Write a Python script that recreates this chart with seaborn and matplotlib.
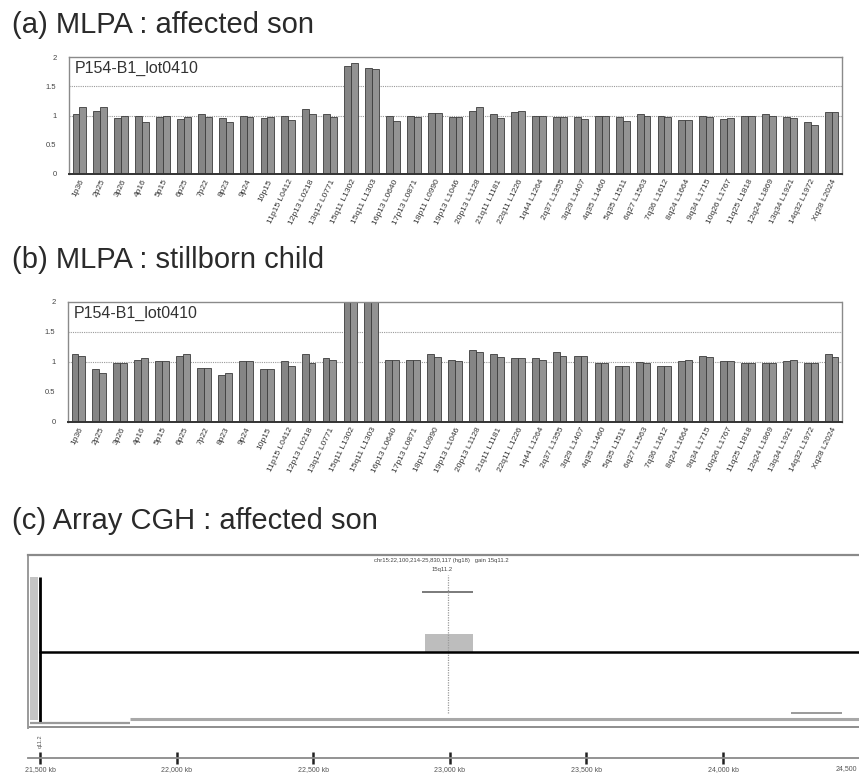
import numpy as np
import pandas as pd
import matplotlib
matplotlib.use("Agg")
import matplotlib.pyplot as plt
import seaborn as sns

# ---------------- data ----------------
probes = ["1p36", "2p25", "3p26", "4p16", "5p15", "6p25", "7p22", "8p23", "9p24", "10p15",
          "11p15 L0412", "12p13 L0218", "13q12 L0771", "15q11 L1302", "15q11 L1303",
          "16p13 L0640", "17p13 L0871", "18p11 L0990", "19p13 L1046", "20p13 L1128",
          "21q11 L1181", "22q11 L1226", "1q44 L1264", "2q37 L1355", "3q29 L1407",
          "4q35 L1460", "5q35 L1511", "6q27 L1563", "7q36 L1612", "8q24 L1664",
          "9q34 L1715", "10q26 L1767", "11q25 L1818", "12q24 L1869", "13q34 L1921",
          "14q32 L1972", "Xq28 L2024"]

son_run1 = [1.03, 1.08, 0.96, 1.00, 0.98, 0.94, 1.02, 0.96, 1.00, 0.96,
            1.00, 1.11, 1.03, 1.85, 1.82, 1.00, 1.00, 1.05, 0.98, 1.08,
            1.03, 1.06, 1.00, 0.98, 0.98, 1.00, 0.98, 1.02, 1.00, 0.93,
            1.00, 0.94, 1.00, 1.03, 0.97, 0.89, 1.06]
son_run2 = [1.15, 1.14, 1.00, 0.89, 1.00, 0.98, 0.97, 0.89, 0.97, 0.97,
            0.92, 1.02, 0.98, 1.90, 1.80, 0.90, 0.98, 1.04, 0.98, 1.14,
            0.96, 1.08, 1.00, 0.98, 0.94, 1.00, 0.90, 1.00, 0.98, 0.92,
            0.98, 0.96, 1.00, 1.00, 0.96, 0.83, 1.06]

still_run1 = [1.13, 0.88, 0.98, 1.03, 1.02, 1.10, 0.90, 0.79, 1.02, 0.88,
              1.02, 1.13, 1.06, 2.10, 2.10, 1.03, 1.03, 1.13, 1.04, 1.20,
              1.13, 1.06, 1.06, 1.16, 1.10, 0.98, 0.94, 1.00, 0.94, 1.02,
              1.10, 1.02, 0.98, 0.98, 1.02, 0.99, 1.13]
still_run2 = [1.10, 0.82, 0.98, 1.07, 1.02, 1.13, 0.90, 0.82, 1.02, 0.88,
              0.93, 0.99, 1.03, 2.10, 2.10, 1.03, 1.03, 1.09, 1.02, 1.16,
              1.09, 1.06, 1.04, 1.10, 1.10, 0.98, 0.94, 0.98, 0.94, 1.04,
              1.09, 1.02, 0.98, 0.98, 1.04, 0.98, 1.09]

y_ticks = [0, 0.5, 1, 1.5, 2]
y_tick_labels = ["0", "0.5", "1", "1.5", "2"]
panel_titles = ["(a) MLPA : affected son", "(b) MLPA : stillborn child",
                "(c) Array CGH : affected son"]
kit_label = "P154-B1_lot0410"

# array CGH (log2 ratio profile, positions in ruler units)
cgh_pos = [0.0, 6.1]
cgh_ratio = [0.0, 0.0]
gain_start, gain_end, gain_ratio = 2.82, 3.17, 0.28
gain_centre = 2.99
gain_threshold = 0.92
cgh_title = "chr15:22,100,214-25,830,117 (hg18)   gain 15q11.2"
cgh_subtitle = "15q11.2"
ruler_ticks = [0, 1, 2, 3, 4, 5]
ruler_labels = ["21,500 kb", "22,000 kb", "22,500 kb", "23,000 kb",
                "23,500 kb", "24,000 kb"]
ruler_end_label = "24,500"

# ---------------- figure ----------------
W, H = 859, 773
sns.set_theme(style="white")
plt.rcParams["font.family"] = ["Liberation Sans", "DejaVu Sans"]
fig = plt.figure(figsize=(W / 100, H / 100), dpi=100)
fig.patch.set_facecolor("white")


def px_axes(l, t, r, b):
    return fig.add_axes([l / W, 1 - b / H, (r - l) / W, (b - t) / H])


def mlpa_panel(ax, r1, r2):
    df = pd.DataFrame({"probe": probes * 2,
                       "run": ["1"] * len(probes) + ["2"] * len(probes),
                       "ratio": list(r1) + list(r2)})
    for g in [1.0, 1.5]:
        ax.axhline(g, color="#9a9a9a", lw=0.8, ls=(0, (1, 1)), zorder=0)
    sns.barplot(data=df, x="probe", y="ratio", hue="run",
                palette=["#858585", "#939393"], width=0.66, errorbar=None,
                edgecolor="#3c3c3c", linewidth=0.6, legend=False, ax=ax,
                zorder=2)
    ax.set_ylim(0, 2)
    ax.set_xlim(-0.5, len(probes) - 0.5)
    ax.set_yticks(y_ticks)
    ax.set_yticklabels(y_tick_labels)
    ax.set_xticks(range(len(probes)))
    ax.set_xticklabels(probes, rotation=64, ha="right", rotation_mode="anchor")
    ax.tick_params(axis="both", length=0)
    ax.tick_params(axis="y", pad=9, labelsize=5.5, labelcolor="#444444")
    ax.tick_params(axis="x", pad=3, labelsize=6.0, labelcolor="#333333")
    ax.set_xlabel("")
    ax.set_ylabel("")
    for s in ["top", "left", "right"]:
        ax.spines[s].set_color("#8a8a8a")
        ax.spines[s].set_linestyle((0, (1, 1)))
        ax.spines[s].set_linewidth(1.0)
    ax.spines["bottom"].set_color("#333333")
    ax.spines["bottom"].set_linewidth(1.4)
    ax.text(0.008, 0.965, kit_label, transform=ax.transAxes, va="top",
            ha="left", fontsize=11.5, color="#333333")


ax_a = px_axes(69, 57, 842, 174)
mlpa_panel(ax_a, son_run1, son_run2)
ax_b = px_axes(68, 302, 842, 422)
mlpa_panel(ax_b, still_run1, still_run2)

for title, base in zip(panel_titles, [33, 268, 529]):
    fig.text(12 / W, 1 - base / H, title, fontsize=21, color="#2a2a2a",
             va="baseline", ha="left")

# ---------------- array CGH panel ----------------
ax_c = px_axes(28, 555, 862, 728)
ax_c.set_xlim((28 - 40) / 136.6, (862 - 40) / 136.6)
ax_c.set_ylim(-1.17, 1.49)

# ideogram strip and left marker
ax_c.fill_between([-0.075, -0.015], -1.05, 1.15, color="#c4c4c4", lw=0)
ax_c.vlines(0, -1.08, 1.15, color="black", lw=2.0)
# gain segment
ax_c.fill_between([gain_start, gain_end], 0, gain_ratio, color="#bdbdbd",
                  lw=0, zorder=1)
ax_c.hlines(gain_threshold, gain_start - 0.02, gain_end, color="#7a7a7a", lw=1.4)
ax_c.vlines(gain_centre, -0.94, 1.18, color="#9a9a9a", lw=0.9,
            linestyles=(0, (1, 1)))
# main profile
sns.lineplot(x=cgh_pos, y=cgh_ratio, color="black", lw=1.8, ax=ax_c, zorder=3)
# bottom tracks
ax_c.hlines(-1.09, -0.07, 0.66, color="#9a9a9a", lw=1.6)
ax_c.hlines(-1.03, 0.66, 6.1, color="#a8a8a8", lw=2.2)
ax_c.hlines(-0.94, 5.5, 5.87, color="#9a9a9a", lw=1.4)
ax_c.axhline(-1.155, color="#7a7a7a", lw=1.2)

ax_c.text(gain_centre - 0.05, 1.40, cgh_title, ha="center", va="center",
          fontsize=4.2, color="#444444")
ax_c.text(gain_centre - 0.05, 1.27, cgh_subtitle, ha="center", va="center",
          fontsize=4.2, color="#444444")

ax_c.set_yticks([])
ax_c.set_xticks(ruler_ticks)
ax_c.set_xticklabels(ruler_labels, ha="left")
ax_c.tick_params(axis="x", bottom=True, direction="inout", length=8, width=1.8,
                 color="#222222", pad=2, labelsize=5.0, labelcolor="#555555")
ax_c.spines["bottom"].set_position(("outward", 21.5))
ax_c.spines["bottom"].set_color("#8a8a8a")
ax_c.spines["bottom"].set_linewidth(1.3)
ax_c.spines["right"].set_visible(False)
ax_c.spines["top"].set_color("#8a8a8a")
ax_c.spines["top"].set_linewidth(1.6)
ax_c.spines["left"].set_color("#9a9a9a")
ax_c.spines["left"].set_linewidth(1.4)

fig.text(857 / W, 1 - 769 / H, ruler_end_label, fontsize=5.0, color="#555555",
         ha="right", va="center")
fig.text(40 / W, 1 - 741 / H, "q11.2", rotation=90, fontsize=4, color="#555555",
         ha="center", va="center")

fig.savefig("out.png", dpi=100, facecolor="white")
